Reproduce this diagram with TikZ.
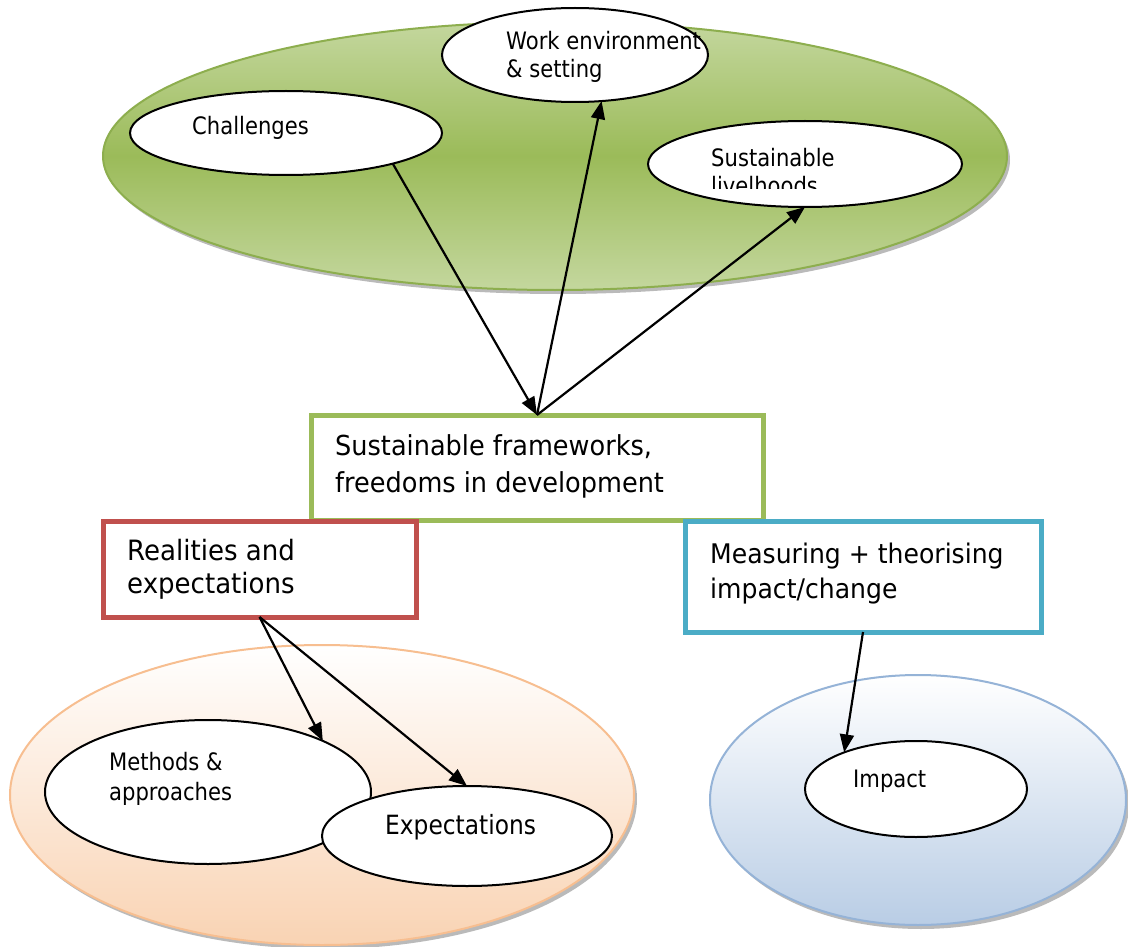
\documentclass[tikz,border=0pt]{standalone}
\usepackage{fontspec}
\setmainfont{DejaVu Sans}
\newfontfamily\ovalfont[FakeStretch=0.88]{DejaVu Sans}
\newfontfamily\framefont[FakeStretch=0.93]{DejaVu Sans}
\usetikzlibrary{shapes.geometric,arrows.meta}
\definecolor{ggreen}{HTML}{9BBB59}
\definecolor{glight}{HTML}{C4D79E}
\definecolor{gedge}{HTML}{8DAE4E}
\definecolor{rred}{HTML}{C0504D}
\definecolor{bblue}{HTML}{4BACC6}
\definecolor{opeach}{HTML}{F9D3B3}
\definecolor{oedge}{HTML}{F7BE90}
\definecolor{lblue}{HTML}{B9CDE5}
\definecolor{bedge}{HTML}{95B3D7}
\begin{document}
\begin{tikzpicture}[x=1pt,y=-1pt,
  oval/.style={ellipse, draw=black, line width=2pt, fill=white, inner sep=0pt, outer sep=0pt},
  etext/.style={anchor=base west, inner sep=0pt, align=left, font=\ovalfont\fontsize{24}{28}\selectfont},
  frame/.style={draw, line width=5pt, fill=white, inner sep=0pt, outer sep=0pt},
  ftext/.style={anchor=base west, inner sep=0pt, align=left},
  big/.style={ellipse, inner sep=0pt, outer sep=0pt, line width=2pt},
  shadowell/.style={fill=black!45, opacity=0.6},
  arr/.style={line width=2.2pt, -{Triangle[length=18pt,width=14pt]}}
]
\useasboundingbox (0,0) rectangle (1128,947);

% ---------- top green group ----------
\fill[shadowell] (558,160) ellipse [x radius=452, y radius=134];
\node[big, draw=gedge, top color=glight, bottom color=glight, middle color=ggreen,
      minimum width=904, minimum height=268] (green) at (555,156) {};

\node[oval, minimum width=312, minimum height=84] (chal) at (286,133) {};
\node[etext] (chalt) at (192,135) {Challenges};

\node[oval, minimum width=266, minimum height=94] (work) at (575,55) {};
\begin{scope}
  \clip (480,0) rectangle (720,83);
  \node[etext] (workt) at (506,78) {Work environment\\\& setting};
\end{scope}

\node[oval, minimum width=314, minimum height=86] (live) at (805,164) {};
\begin{scope}
  \clip (680,120) rectangle (920,189);
  \node[etext] (livet) at (711,194) {Sustainable\\livelhoods};
\end{scope}

% ---------- central frame ----------
\node[frame, draw=ggreen, minimum width=452, minimum height=105] (frame) at (537,467.5) {};
\node[ftext, font=\framefont\fontsize{27.5}{37}\selectfont] (framet) at (335,492)
  {Sustainable frameworks,\\freedoms in development};

% ---------- red frame ----------
\node[frame, draw=rred, minimum width=313, minimum height=96] (red) at (259.5,569) {};
\node[ftext, font=\framefont\fontsize{28}{33}\selectfont] (redt) at (127,593)
  {Realities and\\expectations};

% ---------- blue frame ----------
\node[frame, draw=bblue, minimum width=356, minimum height=111] (blue) at (863,576.5) {};
\node[ftext, font=\framefont\fontsize{27}{35}\selectfont] (bluet) at (710,598)
  {Measuring + theorising\\impact/change};

% ---------- bottom left orange group ----------
\fill[shadowell] (325,799) ellipse [x radius=312, y radius=150];
\node[big, draw=oedge, top color=white, bottom color=opeach,
      minimum width=624, minimum height=300] (orange) at (322,795) {};
\node[oval, minimum width=326, minimum height=144] (meth) at (208,792) {};
\node[etext, font=\ovalfont\fontsize{24}{30}\selectfont] (metht) at (109,800) {Methods \&\\approaches};
\node[oval, minimum width=290, minimum height=100] (exp) at (467,836) {};
\node[etext, font=\ovalfont\fontsize{26.5}{30}\selectfont] (expt) at (385,834) {Expectations};

% ---------- bottom right blue group ----------
\fill[shadowell] (921,804) ellipse [x radius=208, y radius=125];
\node[big, draw=bedge, top color=white, bottom color=lblue,
      minimum width=416, minimum height=250] (blueell) at (918,800) {};
\node[oval, minimum width=222, minimum height=96] (imp) at (916,789) {};
\node[etext] (impt) at (853,787) {Impact};

% ---------- connectors ----------
\draw[arr] (chal.-16) -- (frame.north);
\draw[arr] (frame.north) -- (work.-60);
\draw[arr] (frame.north) -- (live.south);
\draw[arr] (red.south) -- (meth.24);
\draw[arr] (red.south) -- (exp.north);
\draw[arr] (blue.south) -- (imp.153);
\end{tikzpicture}
\end{document}
